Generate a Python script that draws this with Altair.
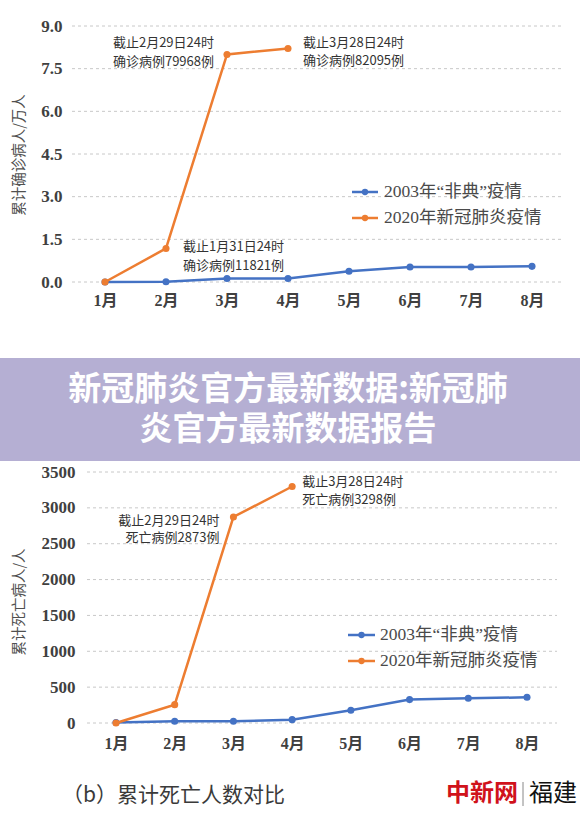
import altair as alt
import pandas as pd

# ---------------- data ----------------
months = ["1月", "2月", "3月", "4月", "5月", "6月", "7月", "8月"]
series_names = ["2003年“非典”疫情", "2020年新冠肺炎疫情"]
series_colors = ["#4472c4", "#ed7d31"]

# cumulative confirmed cases (10k people)
confirmed_2003 = [0.0, 0.01, 0.12, 0.12, 0.38, 0.53, 0.53, 0.55]
confirmed_2020 = [0.0, 1.18, 8.0, 8.21]
confirmed_ticks = [0.0, 1.5, 3.0, 4.5, 6.0, 7.5, 9.0]

# cumulative deaths (people)
deaths_2003 = [8, 24, 24, 47, 177, 326, 345, 358]
deaths_2020 = [0, 256, 2873, 3298]
death_ticks = [0, 500, 1000, 1500, 2000, 2500, 3000, 3500]

confirmed_note_months = ["3月", "4月", "2月"]
confirmed_note_values = [8.0, 8.21, 1.18]
confirmed_note_texts = ["截止2月29日24时\n确诊病例79968例",
                        "截止3月28日24时\n确诊病例82095例",
                        "截止1月31日24时\n确诊病例11821例"]

death_note_months = ["3月", "4月"]
death_note_values = [2873, 3298]
death_note_texts = ["截止2月29日24时\n死亡病例2873例",
                    "截止3月28日24时\n死亡病例3298例"]

title_lines = ["新冠肺炎官方最新数据:新冠肺", "炎官方最新数据报告"]
caption_text = "（b）累计死亡人数对比"
ytitle_top = "累计确诊病人/万人"
ytitle_bottom = "累计死亡病人/人"

SERIF = "'Liberation Serif', 'Noto Sans CJK SC', serif"
SANS = "'Noto Sans CJK SC', sans-serif"
TXT = "#404040"
GRID = "#c8c8c8"

one = pd.DataFrame({"a": [0]})


def series_df(vals):
    return pd.DataFrame({"month": months[:len(vals)], "value": vals})


def panel(x_range, y_domain, y_range, x_off, x_label_pad, y_off, ticks, fmt,
          grid_x, s03, s20, notes, note_styles, note_lh):
    x = alt.X("month:N", sort=months,
              scale=alt.Scale(type="point", domain=months, range=x_range, padding=0),
              axis=alt.Axis(orient="bottom", offset=x_off, labelPadding=x_label_pad,
                            ticks=False, domain=False, grid=False, title=None,
                            labelAngle=0, labelFont=SERIF, labelFontSize=16,
                            labelFontWeight="bold", labelColor=TXT))
    y = alt.Y("value:Q",
              scale=alt.Scale(domain=y_domain, range=y_range, nice=False, zero=True),
              axis=alt.Axis(orient="left", offset=y_off, labelPadding=4, values=ticks,
                            format=fmt, ticks=False, domain=False, grid=False,
                            title=None, labelFont=SERIF, labelFontSize=17,
                            labelFontWeight="bold", labelColor=TXT))
    grid = alt.Chart(pd.DataFrame({"value": ticks})).mark_rule(
        color=GRID, strokeDash=[3, 3], strokeWidth=1
    ).encode(y=y, x=alt.value(grid_x[0]), x2=alt.value(grid_x[1]))
    layers = [grid]
    for vals, col in [(s03, series_colors[0]), (s20, series_colors[1])]:
        d = series_df(vals)
        layers.append(alt.Chart(d).mark_line(color=col, strokeWidth=2.5).encode(x=x, y=y))
        layers.append(alt.Chart(d).mark_point(color=col, filled=True, size=50,
                                              opacity=1).encode(x=x, y=y))
    for (m, v, t), (align, dx, dy) in zip(notes, note_styles):
        nd = pd.DataFrame({"month": [m], "value": [v], "label": [t]})
        layers.append(alt.Chart(nd).mark_text(
            align=align, baseline="middle", dx=dx, dy=dy, lineBreak="\n",
            lineHeight=note_lh, font=SANS, fontSize=13, color="#333333"
        ).encode(x=x, y=y, text="label:N"))
    return alt.layer(*layers)


top = panel([105, 532], [0, 9], [282, 26], -538, 10, -66, confirmed_ticks, ".1f",
            (72, 563), confirmed_2003, confirmed_2020,
            list(zip(confirmed_note_months, confirmed_note_values, confirmed_note_texts)),
            [("right", -13, -11), ("left", 15, -5.5), ("left", 17, -1)], 18.5)

bottom = panel([116, 527], [0, 3500], [723, 472], -97, 12, -79, death_ticks, "d",
               (87, 557), deaths_2003, deaths_2020,
               list(zip(death_note_months, death_note_values, death_note_texts)),
               [("right", -14, 4), ("left", 10, -4)], 17.5)


def legend(x0, x1, ys, tx):
    out = []
    for name, col, yy in zip(series_names, series_colors, ys):
        out.append(alt.Chart(one).mark_rule(color=col, strokeWidth=2.5).encode(
            x=alt.value(x0), x2=alt.value(x1), y=alt.value(yy)))
        out.append(alt.Chart(one).mark_point(color=col, filled=True, size=40,
                                             opacity=1).encode(
            x=alt.value((x0 + x1) / 2), y=alt.value(yy)))
        out.append(alt.Chart(one).mark_text(align="left", baseline="middle",
                                            font=SERIF, fontSize=17.5, color="#4a4a4a").encode(
            x=alt.value(tx), y=alt.value(yy), text=alt.value(name)))
    return out


def vtitle(text, xx, yy):
    return alt.Chart(one).mark_text(angle=270, align="center", baseline="middle",
                                    font=SANS, fontSize=14.5, color="#505050").encode(
        x=alt.value(xx), y=alt.value(yy), text=alt.value(text))


decor = []
decor += legend(352, 378, [192, 218], 384)
decor += legend(348, 375, [635, 661], 380)
decor.append(vtitle(ytitle_top, 20, 155))
decor.append(vtitle(ytitle_bottom, 20, 602))

# banner
decor.append(alt.Chart(one).mark_rect(color="#b5afd3").encode(
    x=alt.value(0), x2=alt.value(580), y=alt.value(358), y2=alt.value(461)))
decor.append(alt.Chart(one).mark_text(
    align="center", baseline="middle", font=SANS, fontSize=33, fontWeight="bold",
    lineBreak="\n", lineHeight=40, color="#ffffff").encode(
    x=alt.value(288), y=alt.value(390), text=alt.value("\n".join(title_lines))))

# caption and logo
decor.append(alt.Chart(one).mark_text(align="left", baseline="middle", font=SANS,
                                      fontSize=21, color="#3a3a3a").encode(
    x=alt.value(62), y=alt.value(796), text=alt.value(caption_text)))
decor.append(alt.Chart(one).mark_text(align="left", baseline="middle", font=SANS,
                                      fontSize=24, fontWeight="bold",
                                      color="#d0121b").encode(
    x=alt.value(446), y=alt.value(794), text=alt.value("中新网")))
decor.append(alt.Chart(one).mark_rule(color="#888888", strokeWidth=1).encode(
    x=alt.value(523), y=alt.value(782), y2=alt.value(806)))
decor.append(alt.Chart(one).mark_text(align="left", baseline="middle", font=SANS,
                                      fontSize=24, color="#111111").encode(
    x=alt.value(529), y=alt.value(794), text=alt.value("福建")))

chart = alt.layer(top, bottom, *decor).resolve_scale(
    x="independent", y="independent"
).properties(
    width=580, height=820, padding=0,
    autosize=alt.AutoSizeParams(type="none", contains="padding"),
    background="#ffffff",
).configure_view(stroke=None)

chart.save("out.html", embed_options={"renderer": "svg", "actions": False})
